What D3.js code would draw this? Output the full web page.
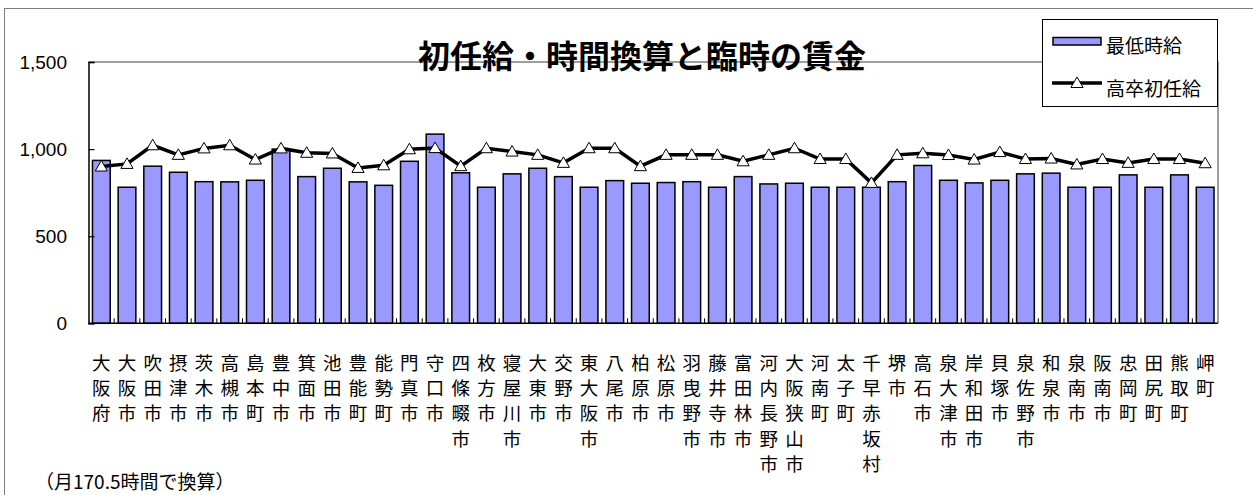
<!DOCTYPE html>
<html>
<head>
<meta charset="utf-8">
<script src="https://cdn.jsdelivr.net/npm/d3@7"></script>
<style>
  body { margin: 0; background: #fff; }
  svg { display: block; }
</style>
</head>
<body>
<div id="chart"></div>
<script>
var width = 1253,
  height = 495;

// municipality names (drawn vertically, one char per row)
var cities = [
  "大阪府", "大阪市", "吹田市", "摂津市", "茨木市", "高槻市", "島本町", "豊中市",
  "箕面市", "池田市", "豊能町", "能勢町", "門真市", "守口市", "四條畷市", "枚方市",
  "寝屋川市", "大東市", "交野市", "東大阪市", "八尾市", "柏原市", "松原市", "羽曳野市",
  "藤井寺市", "富田林市", "河内長野市", "大阪狭山市", "河南町", "太子町", "千早赤坂村", "堺市",
  "高石市", "泉大津市", "岸和田市", "貝塚市", "泉佐野市", "和泉市", "泉南市", "阪南市",
  "忠岡町", "田尻町", "熊取町", "岬町"
];

// 最低時給 (bars)
var minWage = [
  935, 781, 902, 867, 813, 812, 821, 1000, 842, 890, 812, 792, 930, 1086, 864, 781,
  858, 890, 842, 781, 819, 804, 808, 813, 781, 842, 800, 804, 781, 781, 781, 813,
  906, 821, 806, 821, 858, 862, 781, 781, 852, 781, 852, 781
];

// 高卒初任給 (line, hourly equivalent)
var hsStart = [
  900, 915, 1022, 967, 1004, 1022, 940, 1004, 979, 975, 892, 907, 999, 1006, 902, 1005,
  986, 967, 921, 1005, 1005, 902, 967, 967, 967, 930, 967, 1005, 943, 943, 806, 967,
  976, 966, 940, 983, 943, 946, 912, 943, 921, 943, 943, 919
];

var yTicks = [0, 500, 1000, 1500];

var jp = "'Noto Sans CJK JP', sans-serif";
var latin = "'Liberation Sans', Arial, sans-serif";

var plot = { left: 88.5, right: 1218, top: 62, bottom: 323.3 };

var svg = d3
  .select("#chart")
  .append("svg")
  .attr("width", width)
  .attr("height", height);

// outer chart border
svg
  .append("rect")
  .attr("x", 4.5)
  .attr("y", 8.5)
  .attr("width", 1260)
  .attr("height", 500)
  .attr("fill", "#fff")
  .attr("stroke", "#808080")
  .attr("stroke-width", 1);

var x = d3
  .scaleBand()
  .domain(cities)
  .range([plot.left, plot.right])
  .paddingInner(0.31)
  .paddingOuter(0.155);

var y = d3.scaleLinear().domain([0, 1500]).range([plot.bottom, plot.top]);

// plot area border (gray top/right)
svg
  .append("path")
  .attr("d", "M" + plot.left + "," + plot.top + "H" + plot.right + "V" + plot.bottom)
  .attr("fill", "none")
  .attr("stroke", "#808080")
  .attr("stroke-width", 1.5);

// bars
svg
  .append("g")
  .selectAll("rect")
  .data(minWage)
  .enter()
  .append("rect")
  .attr("x", function (d, i) {
    return x(cities[i]);
  })
  .attr("y", function (d) {
    return y(d);
  })
  .attr("width", x.bandwidth())
  .attr("height", function (d) {
    return y(0) - y(d);
  })
  .attr("fill", "#9999FF")
  .attr("stroke", "#000")
  .attr("stroke-width", 1.5);

// y axis: ticks pointing inward
var yAxis = svg
  .append("g")
  .attr("transform", "translate(" + plot.left + ",0)")
  .call(d3.axisRight(y).tickValues(yTicks).tickSize(6).tickFormat(""));
yAxis.select(".domain").attr("stroke", "#000").attr("stroke-width", 1.5);
yAxis.selectAll(".tick line").attr("stroke", "#000").attr("stroke-width", 1.2);

svg
  .append("g")
  .selectAll("text")
  .data(yTicks)
  .enter()
  .append("text")
  .attr("x", 67)
  .attr("y", function (d) {
    return y(d);
  })
  .attr("dy", "0.36em")
  .attr("text-anchor", "end")
  .style("font-family", latin)
  .style("font-size", "19px")
  .text(d3.format(","));

// x axis line + small inward ticks between categories
svg
  .append("line")
  .attr("x1", plot.left)
  .attr("x2", plot.right)
  .attr("y1", plot.bottom)
  .attr("y2", plot.bottom)
  .attr("stroke", "#000")
  .attr("stroke-width", 1.5);

svg
  .append("g")
  .selectAll("line")
  .data(cities.slice(1))
  .enter()
  .append("line")
  .attr("x1", function (d) {
    return x(d) - (x.step() * x.paddingInner()) / 2;
  })
  .attr("x2", function (d) {
    return x(d) - (x.step() * x.paddingInner()) / 2;
  })
  .attr("y1", plot.bottom)
  .attr("y2", plot.bottom - 5)
  .attr("stroke", "#000")
  .attr("stroke-width", 1);

// line series
var line = d3
  .line()
  .x(function (d, i) {
    return x(cities[i]) + x.bandwidth() / 2;
  })
  .y(function (d) {
    return y(d);
  });

svg
  .append("path")
  .datum(hsStart)
  .attr("d", line)
  .attr("fill", "none")
  .attr("stroke", "#000")
  .attr("stroke-width", 3.5)
  .attr("stroke-linejoin", "miter");

var tri = d3.symbol().type(d3.symbolTriangle).size(64);

svg
  .append("g")
  .selectAll("path")
  .data(hsStart)
  .enter()
  .append("path")
  .attr("d", tri)
  .attr("transform", function (d, i) {
    return (
      "translate(" + (x(cities[i]) + x.bandwidth() / 2) + "," + (y(d) + 1) + ")"
    );
  })
  .attr("fill", "#fff")
  .attr("stroke", "#000")
  .attr("stroke-width", 1);

// vertical category labels
var labels = svg
  .append("g")
  .style("font-family", jp)
  .style("font-size", "18.5px")
  .attr("fill", "#000");

cities.forEach(function (name, i) {
  var cx = x(name) + x.bandwidth() / 2;
  name.split("").forEach(function (ch, k) {
    labels
      .append("text")
      .attr("x", cx)
      .attr("y", 362 + k * 25.2)
      .attr("text-anchor", "middle")
      .attr("dominant-baseline", "central")
      .text(ch);
  });
});

// title
svg
  .append("text")
  .attr("x", 642)
  .attr("y", 54)
  .attr("text-anchor", "middle")
  .attr("dominant-baseline", "central")
  .style("font-family", jp)
  .style("font-size", "32px")
  .style("font-weight", "bold")
  .text("初任給・時間換算と臨時の賃金");

// legend
var legend = svg.append("g");
legend
  .append("rect")
  .attr("x", 1042.5)
  .attr("y", 19.5)
  .attr("width", 175)
  .attr("height", 87)
  .attr("fill", "#fff")
  .attr("stroke", "#000")
  .attr("stroke-width", 1);

legend
  .append("rect")
  .attr("x", 1053)
  .attr("y", 37.5)
  .attr("width", 48)
  .attr("height", 7.5)
  .attr("fill", "#9999FF")
  .attr("stroke", "#000")
  .attr("stroke-width", 1.5);

legend
  .append("line")
  .attr("x1", 1052)
  .attr("x2", 1102)
  .attr("y1", 83)
  .attr("y2", 83)
  .attr("stroke", "#000")
  .attr("stroke-width", 3.5);

legend
  .append("path")
  .attr("d", tri)
  .attr("transform", "translate(1077,84)")
  .attr("fill", "#fff")
  .attr("stroke", "#000")
  .attr("stroke-width", 1);

legend
  .selectAll("text")
  .data(["最低時給", "高卒初任給"])
  .enter()
  .append("text")
  .attr("x", 1106)
  .attr("y", function (d, i) {
    return i === 0 ? 44 : 87;
  })
  .attr("dominant-baseline", "central")
  .style("font-family", jp)
  .style("font-size", "19px")
  .text(function (d) {
    return d;
  });

// footnote
svg
  .append("text")
  .attr("x", 35)
  .attr("y", 480)
  .attr("dominant-baseline", "central")
  .style("font-family", jp)
  .style("font-size", "19px")
  .text("（月170.5時間で換算）");
</script>
</body>
</html>
